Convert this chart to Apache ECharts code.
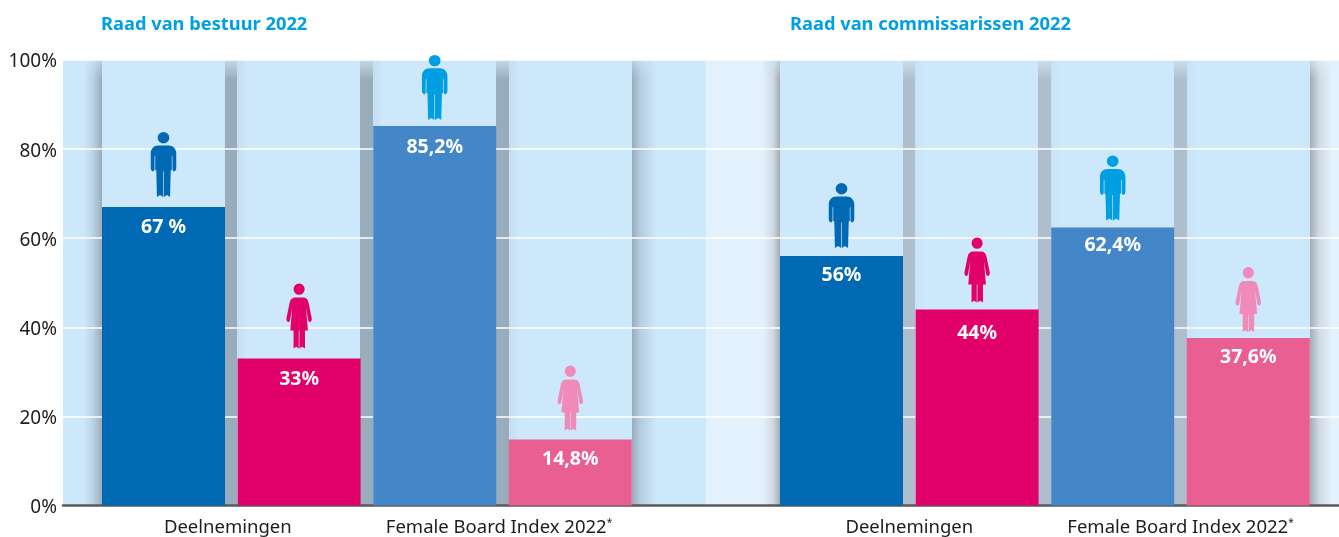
<!DOCTYPE html>
<html><head><meta charset="utf-8">
<style>html,body{margin:0;padding:0;background:#fff}#c{width:1339px;height:537px}</style>
<script src="https://cdn.jsdelivr.net/npm/echarts@6/dist/echarts.min.js"></script>
</head><body><div id="c"></div>
<script>
const slots = ['a1','a2','a3','a4','gap','b1','b2','b3','b4'];
const values = [67, 33, 85.2, 14.8, null, 56, 44, 62.4, 37.6];
const valueLabels = ['67 %','33%','85,2%','14,8%','','56%','44%','62,4%','37,6%'];
const barColors = ['#0069b4','#e2006b','#4487c8','#e95f92','#fff','#0069b4','#e2006b','#4487c8','#e95f92'];
const iconColors = ['#0069b4','#e2006b','#009fe3','#f08bb9','#fff','#0069b4','#e2006b','#009fe3','#f08bb9'];
const iconKinds = ['m','f','m','f','','m','f','m','f'];
const iconLift = [42.5,42.5,38.5,41.5,0,40.5,39.5,39.5,38.5];
const labelNudge = [0,0,1.5,-1,0,-1,3,-3,-1];
const groupTitles = ['Raad van bestuur 2022','Raad van commissarissen 2022'];
const groupLabels = {2:'Deelnemingen',6:'Female Board Index 2022*',12:'Deelnemingen',16:'Female Board Index 2022*'};
const tickStep = 20;

const MAN = 'path://M37 0A17 17 0 1 1 37 34A17 17 0 1 1 37 0ZM22 40H52C65 40 74 50 74 64V108C74 114 70 118 66 118L63 112V72H61V114H58L56 194L47 188L38 194V118H36V194L27 188L18 194L16 114H13V72H11V112L8 118C4 118 0 114 0 108V64C0 50 9 40 22 40Z';
const WOMAN = 'path://M39 0A17 17 0 1 1 39 34A17 17 0 1 1 39 0ZM27 42H51C61 42 66 48 68 58L78 106C78 112 75 116 71 116L67 112L60 72L66 141H57V195L48 190L40 195V141H38V195L30 190L22 195V141H12L18 72L11 112L7 116C3 116 0 112 0 106L10 58C12 48 17 42 27 42Z';

const F = '"Noto Sans",sans-serif';
const pad = 95.7, slotW = 135.6, gridTop = 60, gridBottom = 505.5;
const h = gridBottom - gridTop;
function hGrad(stops){return {type:'linear',x:0,y:0,x2:1,y2:0,colorStops:stops.map(s=>({offset:s[0],color:s[1]}))};}
function vGrad(stops){return {type:'linear',x:0,y:0,x2:0,y2:1,colorStops:stops.map(s=>({offset:s[0],color:s[1]}))};}
function rect(x,w,fill,y,hh){return {type:'rect',z:-10,silent:true,shape:{x:x,y:y===undefined?gridTop:y,width:w,height:hh===undefined?h:hh},style:{fill:fill}};}
const shade1='rgba(120,135,148,0.62)', shade2='rgba(130,130,135,0.40)', none='rgba(120,135,148,0)';
const soft1='rgba(120,135,148,0.10)', soft2='rgba(130,130,135,0.06)', none2='rgba(130,130,135,0)';
const bg = [
  rect(63,1276,'#cde7fb'),
  rect(706,74,'#e3f1fc'),
  rect(1310,29,'#e3f1fc'),
  rect(84,18,hGrad([[0,none],[0.55,'rgba(120,135,148,0.25)'],[1,shade1]])),
  rect(225,12,shade1), rect(360,13,shade1), rect(496,13,shade1),
  rect(632,24,hGrad([[0,shade1],[0.35,'rgba(120,135,148,0.28)'],[1,none]])),
  rect(763,17,hGrad([[0,'rgba(130,130,135,0)'],[0.6,'rgba(130,130,135,0.22)'],[1,'rgba(120,125,130,0.6)']])),
  rect(903,12,shade2), rect(1038,13,shade2), rect(1174,13,shade2),
  rect(1310,22,hGrad([[0,'rgba(120,125,130,0.6)'],[0.4,'rgba(130,130,135,0.22)'],[1,'rgba(130,130,135,0)']])),
];
[237,373,509].forEach(x=>bg.push(rect(x,10,hGrad([[0,soft1],[1,none]]))));
[915,1051,1187].forEach(x=>bg.push(rect(x,10,hGrad([[0,soft2],[1,none2]]))));
[[225,12],[360,13],[496,13],[903,12],[1038,13],[1174,13]].forEach(g=>{
  bg.push(rect(g[0],g[1],vGrad([[0,'rgba(215,235,250,0.7)'],[1,'rgba(215,235,250,0)']]),gridTop,20));
});
[[84,18],[632,24],[763,17]].forEach(g=>{
  bg.push(rect(g[0],g[1],vGrad([[0,'rgba(205,231,251,0.6)'],[1,'rgba(205,231,251,0)']]),gridTop,18));
});
bg.push(rect(1310,29,vGrad([[0,'rgba(227,241,252,0.65)'],[1,'rgba(227,241,252,0)']]),gridTop,18));

const pts19 = Array.from({length:19},(_,i)=>groupLabels[i]||'');

const option = {
  animation:false,
  title: groupTitles.map((t,i)=>({text:t,left:i?790:101,top:16,padding:0,
    textStyle:{color:'#009fe3',fontFamily:F,fontWeight:'bold',fontSize:18.3}})),
  graphic: bg,
  grid:[
    {left:63,right:0,top:gridTop,height:h},
    {left:pad,width:slotW*9,top:gridTop,height:h},
    {left:pad,width:slotW*9,top:gridTop,height:h}
  ],
  xAxis:[
    {gridIndex:0,type:'value',min:0,max:1,show:true,splitLine:{show:false},axisTick:{show:false},axisLabel:{show:false},
     axisLine:{show:true,onZero:false,lineStyle:{color:'#58595b',width:2.5}}},
    {gridIndex:1,type:'category',data:slots,show:false},
    {gridIndex:2,type:'category',data:pts19,boundaryGap:false,axisLine:{show:false},axisTick:{show:false},splitLine:{show:false},
     axisLabel:{interval:0,margin:14,hideOverlap:false,color:'#1d1d1b',fontFamily:F,fontSize:18.5,
       formatter:(v,i)=>{
         if(!v) return '';
         const star=v.endsWith('*');
         const t=star?v.slice(0,-1):v;
         return i<10 ? '{l|'+t+'}'+(star?'{s|*}':'')+'{r|}' : t+(star?'{s|*}':'');
       },
       rich:{
         l:{fontFamily:F,fontSize:18.5,color:'#1d1d1b'},
         r:{width:7,fontSize:18.5},
         s:{fontSize:10,verticalAlign:'top',color:'#1d1d1b',fontFamily:F,padding:[0,0,6,0]}
       }}}
  ],
  yAxis:[
    {gridIndex:0,type:'value',min:0,max:100,interval:tickStep,axisLine:{show:false},axisTick:{show:false},
     splitLine:{show:true,lineStyle:{color:'#ffffff',width:1.5}},
     axisLabel:{formatter:v=>'{t|'+v+'%}',margin:6,
       rich:{t:{color:'#1d1d1b',fontFamily:F,fontSize:19,padding:[4,0,0,0]}}}},
    {gridIndex:1,type:'value',min:0,max:100,show:false,splitLine:{show:false}},
    {gridIndex:2,type:'value',min:0,max:100,show:false,splitLine:{show:false}}
  ],
  series:[
    {type:'bar',xAxisIndex:1,yAxisIndex:1,barWidth:123,z:3,
     data:values.map((v,i)=>({value:v,itemStyle:{color:barColors[i]},
       label:{show:v!==null,position:'insideTop',distance:10.5,offset:[0,labelNudge[i]],formatter:valueLabels[i],color:'#fff',fontFamily:F,fontWeight:'bold',fontSize:19.5}}))},
    {type:'scatter',xAxisIndex:1,yAxisIndex:1,clip:false,z:4,silent:true,
     symbolSize:[25.5,65],itemStyle:{opacity:1},
     data:values.map((v,i)=>v===null?null:({value:[i,v],symbol:iconKinds[i]==='m'?MAN:WOMAN,symbolOffset:[0,-iconLift[i]],itemStyle:{color:iconColors[i],opacity:1}})).filter(d=>d)}
  ]
};
echarts.init(document.getElementById('c'),null,{renderer:'canvas'}).setOption(option);
</script></body></html>
